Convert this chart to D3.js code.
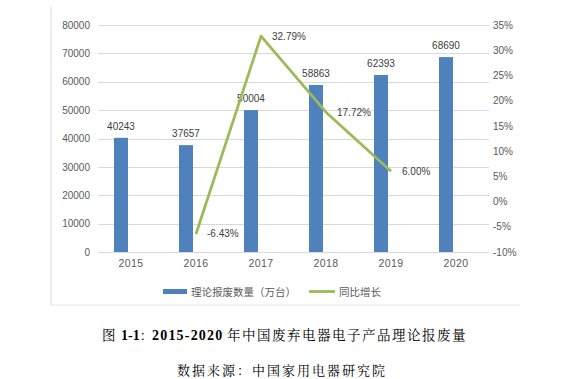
<!DOCTYPE html>
<html><head><meta charset="utf-8">
<script src="https://cdn.jsdelivr.net/npm/d3@7"></script>
<style>body{margin:0;background:#fff}svg{display:block}</style>
</head><body>
<svg id="c" width="585" height="379"></svg>
<script>
const years = ["2015","2016","2017","2018","2019","2020"];
const scrapQty = [40243, 37657, 50004, 58863, 62393, 68690];
const growthYears = ["2016","2017","2018","2019"];
const growth = [-0.0643, 0.3279, 0.1772, 0.0600];
const leftTicks = [0,10000,20000,30000,40000,50000,60000,70000,80000];
const rightTicks = [-0.10,-0.05,0,0.05,0.10,0.15,0.20,0.25,0.30,0.35];
const legendLabels = ["理论报废数量（万台）","同比增长"];

const svg = d3.select("#c");
const x = d3.scaleBand().domain(years).range([98.5, 488.5]).paddingInner(0).paddingOuter(0);
const yL = d3.scaleLinear().domain([0, 80000]).range([252, 25]);
const yR = d3.scaleLinear().domain([-0.10, 0.35]).range([252, 25]);
const cx = d => x(d) + x.bandwidth()/2;
const sans = "'Liberation Sans', Arial, sans-serif";
const cjk = "'Noto Sans CJK SC', sans-serif";

// frame
svg.append("line").attr("x1",51).attr("x2",51).attr("y1",7).attr("y2",305).attr("stroke","#d9d9d9");
svg.append("line").attr("x1",51).attr("x2",520).attr("y1",305).attr("y2",305).attr("stroke","#e3e3e3");

// gridlines
svg.append("g").selectAll("line").data(leftTicks).join("line")
  .attr("x1",98).attr("x2",489).attr("y1",d=>Math.round(yL(d))+0.5).attr("y2",d=>Math.round(yL(d))+0.5)
  .attr("stroke","#d9d9d9").attr("stroke-width",1);

// left axis
const gl = svg.append("g").attr("transform","translate(98,0)")
  .call(d3.axisLeft(yL).tickValues(leftTicks).tickSize(0).tickPadding(8).tickFormat(d3.format("d")));
gl.select(".domain").remove();
gl.selectAll("text").attr("font-family",sans).attr("font-size",10).attr("fill","#595959");

// right axis
const gr = svg.append("g").attr("transform","translate(489,0)")
  .call(d3.axisRight(yR).tickValues(rightTicks).tickSize(0).tickPadding(4).tickFormat(d=>Math.round(d*100)+"%"));
gr.select(".domain").remove();
gr.selectAll("text").attr("font-family",sans).attr("font-size",10).attr("fill","#595959");

// x axis
const gx = svg.append("g").attr("transform","translate(0,252)")
  .call(d3.axisBottom(x).tickSize(0).tickPadding(8));
gx.select(".domain").remove();
gx.selectAll("text").attr("font-family",sans).attr("font-size",10.5).attr("letter-spacing",0.4).attr("fill","#595959");

// bars
svg.append("g").selectAll("rect").data(years).join("rect")
  .attr("x",(d)=>cx(d)-17).attr("width",14)
  .attr("y",(d,i)=>yL(scrapQty[i])).attr("height",(d,i)=>yL(0)-yL(scrapQty[i]))
  .attr("fill","#4f81bd");

// bar labels
svg.append("g").selectAll("text").data(years).join("text")
  .attr("x",d=>cx(d)-10).attr("y",(d,i)=>yL(scrapQty[i])-8)
  .attr("text-anchor","middle").attr("font-family",sans).attr("font-size",10).attr("fill","#404040")
  .text((d,i)=>scrapQty[i]);

// line
const line = d3.line().x((d,i)=>cx(growthYears[i])).y(d=>yR(d));
svg.append("path").datum(growth).attr("d",line).attr("fill","none")
  .attr("stroke","#9bbb59").attr("stroke-width",2.8).attr("stroke-linejoin","round");

svg.append("g").selectAll("text").data(growth).join("text")
  .attr("x",(d,i)=>cx(growthYears[i])+11).attr("y",d=>yR(d)+3.5)
  .attr("font-family",sans).attr("font-size",10).attr("fill","#404040")
  .text(d=>(d*100).toFixed(2)+"%");

// legend
svg.append("rect").attr("x",163).attr("y",289).attr("width",24).attr("height",5).attr("fill","#4f81bd");
svg.append("text").attr("x",191).attr("y",295.5).attr("font-family",cjk).attr("font-size",10.5).attr("fill","#595959").text(legendLabels[0]);
svg.append("line").attr("x1",309).attr("x2",335).attr("y1",291.5).attr("y2",291.5).attr("stroke","#9bbb59").attr("stroke-width",2.8);
svg.append("text").attr("x",339).attr("y",295.5).attr("font-family",cjk).attr("font-size",10.5).attr("fill","#595959").text(legendLabels[1]);

// caption
const serifCjk = "'Noto Serif CJK SC', 'Noto Sans CJK SC', serif";
const latinB = "'Liberation Serif', serif";
const cap = svg.append("g").attr("fill","#000");
const t1 = cap.append("text").attr("x",102).attr("y",340).attr("font-family",serifCjk).attr("font-size",13.5);
t1.append("tspan").text("图");
t1.append("tspan").attr("x",121).attr("font-family",latinB).attr("font-weight","bold").attr("font-size",14).text("1-1");
t1.append("tspan").attr("font-size",13).text("：");
t1.append("tspan").attr("x",152).attr("font-family",latinB).attr("font-weight","bold").attr("font-size",14).attr("letter-spacing",1.2).text("2015-2020");
t1.append("tspan").attr("x",227).attr("letter-spacing",1.5).text("年中国废弃电器电子产品理论报废量");
cap.append("text").attr("x",177).attr("y",375).attr("font-family",serifCjk).attr("font-size",13).attr("letter-spacing",2).text("数据来源：中国家用电器研究院");
</script>
</body></html>
